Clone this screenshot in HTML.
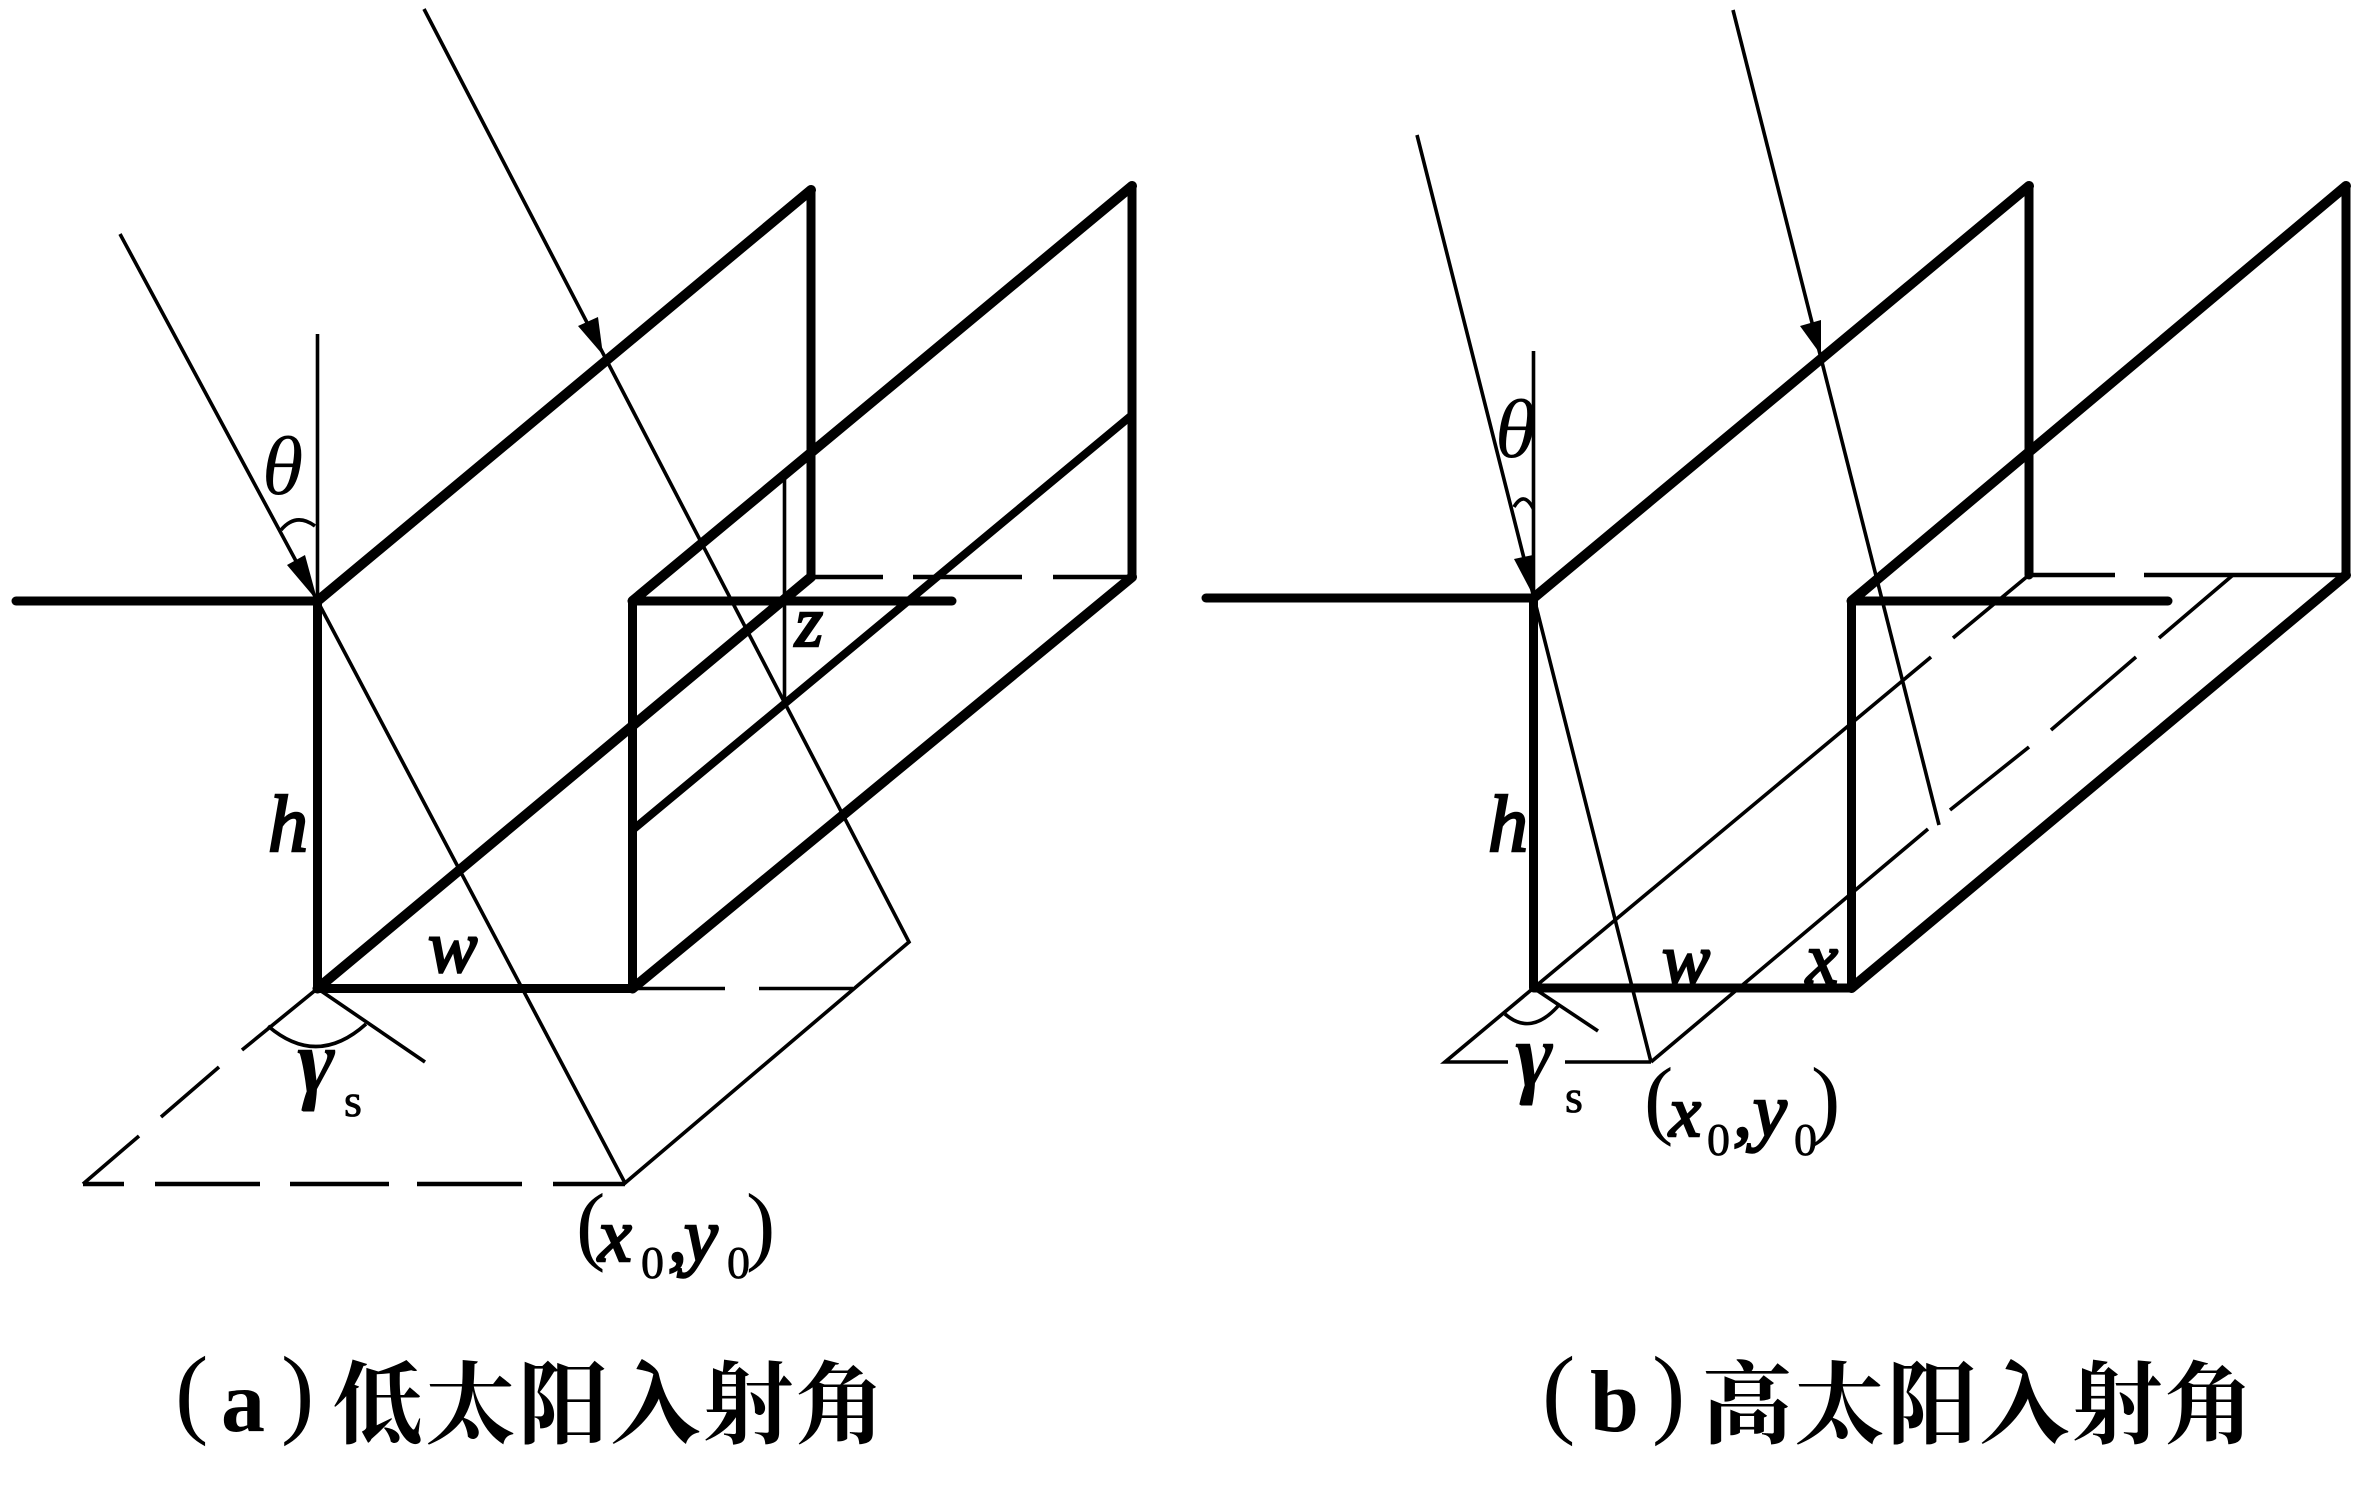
<!DOCTYPE html>
<html><head><meta charset="utf-8">
<style>
html,body{margin:0;padding:0;background:#fff;width:2368px;height:1498px;overflow:hidden}
svg{display:block}
.m{font-family:"Liberation Serif",serif;font-style:italic;fill:#000}
.b{stroke:#000;stroke-width:2.4}
.g{font-weight:bold}
.r{font-family:"Liberation Serif",serif;fill:#000}
.s{stroke:#000;stroke-width:.8}
.c{font-family:"Liberation Serif","Noto Serif CJK SC",serif;font-weight:bold;font-size:92px;fill:#000}
.p{font-family:"Liberation Serif",serif;font-size:100px;fill:#000}
.t{stroke:#000;stroke-width:9;fill:none;stroke-linecap:round;stroke-linejoin:round}
.w{stroke-width:10}
.n{stroke:#000;stroke-width:3.6;fill:none}
.d{stroke:#000;stroke-width:4.5;fill:none}
</style></head><body>
<svg width="2368" height="1498" viewBox="0 0 2368 1498" xmlns="http://www.w3.org/2000/svg">
<rect width="2368" height="1498" fill="#fff"/>

<!-- LEFT (a) -->
<g class="t">
<path d="M16 601H317.5"/><path d="M632.5 601H952"/>
<path d="M317.5 601V988.5H632.5V601"/>
<path d="M811 190V577"/>
<path d="M1132 186V577"/>
<path class="w" d="M317.5 601L811 190"/>
<path class="w" d="M632.5 601L1132 186"/>
<path class="w" d="M317.5 988.5L811 577"/>
<path class="w" d="M632.5 988.5L1132 577"/>
<path d="M632.5 830L1132 415" stroke-width="8"/>
</g>
<g class="n">
<path d="M120 234L317.5 601L625 1183L909 942L424 9"/>
<path d="M317.5 334V601"/>
<path d="M784.5 477V703"/>
<path d="M281 530Q296 512 315 526"/>
<path d="M632.5 988.5H725M759 988.5H853"/>
<path d="M317.5 988.5L242 1050M219 1067L161 1117M139 1136L83 1184"/>
<path d="M317.5 988.5L425 1062"/>
<path d="M268 1026Q317 1068 366 1024"/>
</g>
<path class="d" d="M811 577H883M913 577H1022M1053 577H1132"/>
<path class="d" d="M83 1184H124M155 1184H260M290 1184H389M417 1184H522M553 1184H625"/>
<path d="M317.5 601L287 565L305 555Z"/>
<path d="M603 355L578 326L598 317Z"/>

<text class="m" x="262" y="494" font-size="84">θ</text>
<text class="m b" x="268" y="851" font-size="80">h</text>
<text class="m b" x="428" y="972" font-size="74">w</text>
<text class="m b" x="795" y="646" font-size="72">z</text>
<text class="m g" x="297" y="1092" font-size="92">γ</text>
<text class="r s" x="344" y="1116" font-size="46">s</text>
<text class="r" x="576" y="1254" font-size="88">(</text>
<text class="m b" x="598" y="1261" font-size="76">x</text>
<text class="r s" x="641" y="1278" font-size="46">0</text>
<text class="m b" x="668" y="1261" font-size="76">,</text>
<text class="m b" x="684" y="1261" font-size="76">y</text>
<text class="r s" x="727" y="1278" font-size="46">0</text>
<text class="r" x="746" y="1254" font-size="88">)</text>

<text class="p" x="175" y="1425">(</text>
<text class="c" x="221" y="1431" style="font-size:88px">a</text>
<text class="p" x="281" y="1425">)</text>
<text class="c" y="1436" x="333 425.5 518 610.5 703 795.5" style="font-size:90px">低太阳入射角</text>

<!-- RIGHT (b) -->
<g class="t">
<path d="M1206 598H1533.5"/><path d="M1851.5 601H2168"/>
<path d="M1533.5 598V988H1851.5V601"/>
<path d="M2029 186V575"/>
<path d="M2346 186V575"/>
<path class="w" d="M1533.5 598L2029 186"/>
<path class="w" d="M1851.5 601L2346 186"/>
<path class="w" d="M1851.5 988L2346 575"/>
</g>
<g class="n">
<path d="M1417 135L1533.5 596L1651 1062"/>
<path d="M1733 10L1939 825"/>
<path d="M1533.5 351V596"/>
<path d="M1514 507Q1524 490 1533.5 509"/>
<path d="M1533.5 988L1931 657M1953 638L2029 575"/>
<path d="M2233 575L2159 638M2136 657L2051 730M2029 747L1950 810M1928 829L1651 1062"/>
<path d="M1533.5 988L1445 1062H1508M1565 1062H1651"/>
<path d="M1533.5 988L1598 1031"/>
<path d="M1505 1014Q1531 1037 1559 1005"/>
</g>
<path class="d" d="M2029 575H2115M2144 575H2346"/>
<path d="M1533.5 596L1514 559L1533 555Z"/>
<path d="M1821 355L1800 326L1821 320Z"/>

<text class="m" x="1495" y="457" font-size="84">θ</text>
<text class="m b" x="1488" y="851" font-size="80">h</text>
<text class="m b" x="1662" y="984" font-size="72">w</text>
<text class="m b" x="1806" y="983" font-size="72">x</text>
<text class="m g" x="1515" y="1086" font-size="92">γ</text>
<text class="r s" x="1565" y="1112" font-size="46">s</text>
<text class="r" x="1644" y="1128" font-size="88">(</text>
<text class="m b" x="1669" y="1136" font-size="72">x</text>
<text class="r s" x="1707" y="1155" font-size="46">0</text>
<text class="m b" x="1733" y="1136" font-size="76">,</text>
<text class="m b" x="1753" y="1136" font-size="76">y</text>
<text class="r s" x="1794" y="1155" font-size="46">0</text>
<text class="r" x="1811" y="1128" font-size="88">)</text>

<text class="p" x="1542" y="1425">(</text>
<text class="c" x="1590" y="1431" style="font-size:88px">b</text>
<text class="p" x="1652" y="1425">)</text>
<text class="c" y="1436" x="1702 1794.5 1887 1979.5 2072 2164.5" style="font-size:90px">高太阳入射角</text>
</svg>
</body></html>
